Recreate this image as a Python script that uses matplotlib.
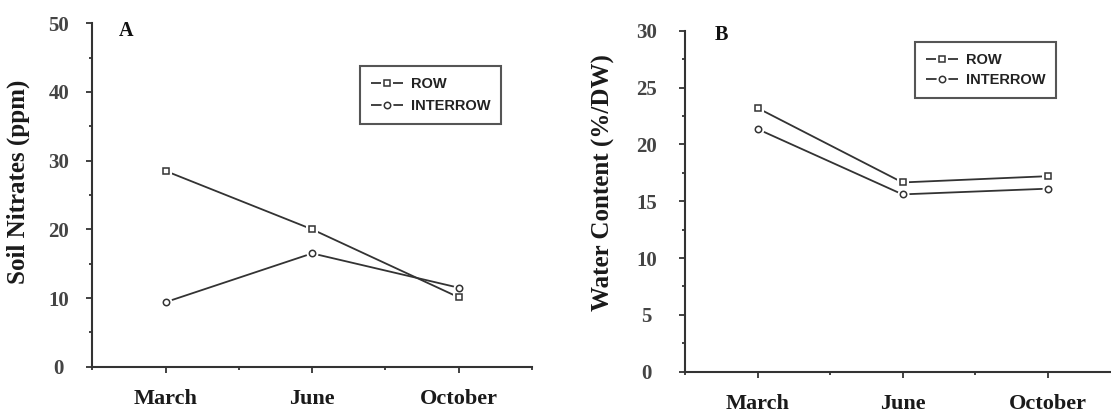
import matplotlib
matplotlib.use("Agg")
import matplotlib.pyplot as plt
from matplotlib.ticker import MultipleLocator, FixedLocator
from matplotlib.legend_handler import HandlerTuple

months = ["March", "June", "October"]
series_names = ["ROW", "INTERROW"]
nitrates_row = [28.5, 20.0, 10.1]
nitrates_interrow = [9.4, 16.5, 11.5]
water_row = [23.2, 16.65, 17.2]
water_interrow = [21.35, 15.6, 16.1]

W, H = 1111, 412
fig = plt.figure(figsize=(W / 100, H / 100), dpi=100)

dark = "#333333"
serif = "Liberation Serif"
sans = "Liberation Sans"


def px(x0, y0, x1, y1):
    return [x0 / W, 1 - y1 / H, (x1 - x0) / W, (y1 - y0) / H]


def draw_panel(ax, row, inter, ylim, major, minor, letter, letter_xy, tick_center_pad,
               leg_xy, leg_ls):
    x = list(range(len(months)))
    artists = []
    for vals, mk, ms in ((row, "s", 4.0), (inter, "o", 4.6)):
        ln, = ax.plot(x, vals, color=dark, lw=1.3, zorder=2, solid_capstyle="butt")
        halo, = ax.plot(x, vals, ls="none", marker=mk, ms=ms + 4, mfc="white",
                        mec="white", mew=0, zorder=3)
        mkr, = ax.plot(x, vals, ls="none", marker=mk, ms=ms, mfc="white",
                       mec=dark, mew=1.1, zorder=4)
        artists.append((ln, halo, mkr))

    ax.set_xlim(-0.5, 2.5)
    ax.set_ylim(*ylim)
    ax.xaxis.set_major_locator(FixedLocator(x))
    ax.xaxis.set_minor_locator(FixedLocator([-0.5, 0.5, 1.5, 2.5]))
    ax.set_xticklabels(months, fontfamily=serif, fontweight="bold", fontsize=16,
                       color="#1a1a1a")
    ax.yaxis.set_major_locator(MultipleLocator(major))
    ax.yaxis.set_minor_locator(MultipleLocator(minor))
    for s in ("top", "right"):
        ax.spines[s].set_visible(False)
    for s in ("left", "bottom"):
        ax.spines[s].set_color(dark)
        ax.spines[s].set_linewidth(1.5)
    ax.tick_params(axis="both", which="major", direction="out", length=4.2,
                   width=1.3, color=dark)
    ax.tick_params(axis="both", which="minor", direction="out", length=2.2,
                   width=1.3, color=dark)
    ax.tick_params(axis="x", which="major", pad=11.5)
    ax.tick_params(axis="y", which="major", pad=tick_center_pad, labelsize=15,
                   labelcolor="#444444")
    for lbl in ax.get_yticklabels():
        lbl.set_fontfamily(serif)
        lbl.set_fontweight("bold")
        lbl.set_ha("center")

    ax.text(letter_xy[0] / W, 1 - letter_xy[1] / H, letter, transform=fig.transFigure,
            fontfamily=serif, fontweight="bold", fontsize=14.5, ha="left", va="top",
            color="#111111")

    leg = ax.legend([artists[0], artists[1]], series_names,
                    handler_map={tuple: HandlerTuple(ndivide=1)},
                    loc="upper left", bbox_to_anchor=(leg_xy[0] / W, 1 - leg_xy[1] / H),
                    bbox_transform=fig.transFigure, borderaxespad=0,
                    prop={"family": sans, "size": 10.5, "weight": "bold"},
                    frameon=True, fancybox=False,
                    edgecolor="#555555", framealpha=1, handlelength=2.2,
                    handletextpad=0.55, borderpad=0.75, labelspacing=leg_ls)
    leg.get_frame().set_linewidth(1.5)
    for t in leg.get_texts():
        t.set_color("#222222")


axA = fig.add_axes(px(92.3, 23.3, 532, 366.7))
draw_panel(axA, nitrates_row, nitrates_interrow, (0, 50), 10, 5, "A", (119, 21),
           20.0, (360, 66), 0.55)
fig.text(18 / W, 1 - 181.5 / H, "Soil Nitrates (ppm)", rotation=90, ha="center",
         va="center", fontfamily=serif, fontweight="bold", fontsize=18, color="#1a1a1a")

axB = fig.add_axes(px(685, 30.7, 1120, 371.7))
draw_panel(axB, water_row, water_interrow, (0, 30), 5, 2.5, "B", (715, 25),
           23.3, (915, 41.7), 0.45)
fig.text(603.5 / W, 1 - 182.5 / H, "Water Content (%/DW)", rotation=90, ha="center",
         va="center", fontfamily=serif, fontweight="bold", fontsize=18, color="#1a1a1a")

fig.savefig("out.png", dpi=100)
